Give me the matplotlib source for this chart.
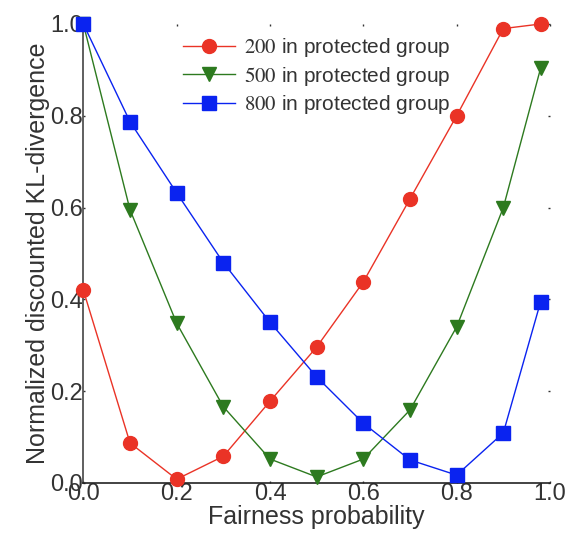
import matplotlib
matplotlib.use("Agg")
import matplotlib.pyplot as plt

x = [0.0, 0.1, 0.2, 0.3, 0.4, 0.5, 0.6, 0.7, 0.8, 0.9, 0.98]
s200 = [0.42, 0.087, 0.008, 0.058, 0.178, 0.296, 0.438, 0.619, 0.80, 0.99, 1.0]
s500 = [1.0, 0.595, 0.348, 0.166, 0.052, 0.013, 0.052, 0.159, 0.34, 0.60, 0.904]
s800 = [1.0, 0.787, 0.632, 0.48, 0.35, 0.231, 0.13, 0.05, 0.017, 0.109, 0.395]
labels = ["$200$ in protected group", "$500$ in protected group", "$800$ in protected group"]
xticks = [0.0, 0.2, 0.4, 0.6, 0.8, 1.0]
yticks = [0.0, 0.2, 0.4, 0.6, 0.8, 1.0]

plt.rcParams['font.family'] = ['Liberation Sans', 'DejaVu Sans']
plt.rcParams['mathtext.fontset'] = 'stix'

fig = plt.figure(figsize=(5.67, 5.33), dpi=100)
ax = fig.add_axes([0.147, 0.094, 0.823, 0.861])

ax.plot(x, s200, color='#ea3326', marker='o', markersize=10, lw=1.0, label=labels[0], clip_on=False, zorder=3)
ax.plot(x, s500, color='#2d7a1f', marker='v', markersize=10, lw=1.0, label=labels[1], clip_on=False, zorder=3)
ax.plot(x, s800, color='#0a23f0', marker='s', markersize=10, lw=1.0, label=labels[2], clip_on=False, zorder=3)

ax.set_xlim(0, 1.0)
ax.set_ylim(0, 1.0)
ax.set_xticks(xticks)
ax.set_yticks(yticks)
ax.set_xticklabels([f"{t:.1f}" for t in xticks])
ax.set_yticklabels([f"{t:.1f}" for t in yticks])
ax.tick_params(axis='both', labelsize=17, colors='#333333', length=1.5, width=1, pad=0,
               top=True, right=True, direction='in')
for t in ax.get_xticklabels() + ax.get_yticklabels():
    t.set_color('#333333')

ax.spines['top'].set_visible(False)
ax.spines['right'].set_visible(False)
ax.spines['left'].set_color('#444444')
ax.spines['bottom'].set_color('#222222')
ax.spines['left'].set_linewidth(1.2)
ax.spines['bottom'].set_linewidth(1.2)

ax.set_xlabel("Fairness probability", fontsize=18, color='#333333', labelpad=0)
ax.set_ylabel("Normalized discounted KL-divergence", fontsize=18, color='#333333', labelpad=0)

leg = ax.legend(loc='upper center', bbox_to_anchor=(0.5, 1.0), frameon=False, fontsize=15,
                handlelength=2.5, labelspacing=0.25, borderaxespad=0.2, handletextpad=0.4)
for t in leg.get_texts():
    t.set_color('#333333')

fig.savefig("out.png", dpi=100)
